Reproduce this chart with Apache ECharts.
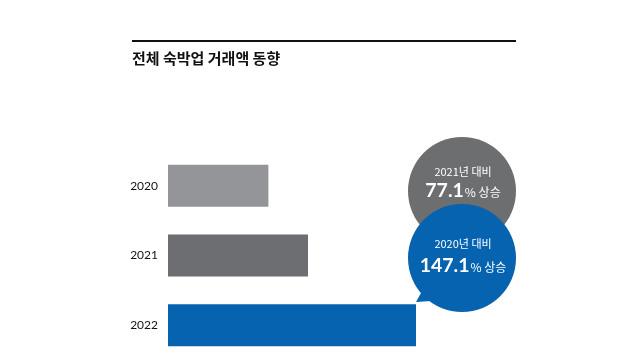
<!DOCTYPE html>
<html><head><meta charset="utf-8">
<script src="https://cdn.jsdelivr.net/npm/echarts@6/dist/echarts.min.js"></script>
<style>html,body{margin:0;padding:0;background:#fff}#c{width:640px;height:360px}</style>
</head><body><div id="c"></div>
<script>
const titleText = '전체 숙박업 거래액 동향';
const years = ['2020', '2021', '2022'];
const values = [100.4, 140.0, 248];
const barColors = ['#939598', '#6d6e71', '#0563b0'];
const bubble1 = ['2021년 대비', '77.1', '% 상승'];
const bubble2 = ['2020년 대비', '147.1', '% 상승'];

const chart = echarts.init(document.getElementById('c'), null, {renderer: 'canvas'});
const kfont = '"Noto Sans CJK KR", sans-serif';

function bubble(cx, cy, r, color, lines, dy1, dy2) {
  return [
    {type: 'circle', shape: {cx: cx, cy: cy, r: r}, style: {fill: color}, z: 10},
    {type: 'text', x: cx + 1, y: cy + dy1, z: 11, style: {text: lines[0], fill: '#fff', font: '11px ' + kfont, align: 'center', verticalAlign: 'middle'}},
    {type: 'text', x: cx + 1, y: cy + dy2, z: 11, style: {
      text: '{a|' + lines[1] + '}{b|' + lines[2] + '}', fill: '#fff', align: 'center', verticalAlign: 'middle',
      rich: {a: {fontFamily: 'Lato', fontWeight: 'bold', fontSize: 19.5, fill: '#fff'}, b: {fontFamily: kfont, fontSize: 12, fill: '#fff', padding: [3, 0, 0, 1]}}
    }}
  ];
}

const option = {
  backgroundColor: '#fff',
  animation: false,
  grid: {left: 168, right: 124, top: 151, height: 210, containLabel: false},
  xAxis: {type: 'value', min: 0, max: 348, show: false},
  yAxis: {
    type: 'category', data: years, inverse: true,
    axisLine: {show: false}, axisTick: {show: false},
    axisLabel: {margin: 10, color: '#111', fontSize: 12, fontFamily: 'Lato'}
  },
  series: [{
    type: 'bar', barWidth: 42,
    data: values.map((v, i) => ({value: v, itemStyle: {color: barColors[i]}}))
  }],
  graphic: [
    {type: 'line', shape: {x1: 132, y1: 41, x2: 516, y2: 41}, style: {stroke: '#111', lineWidth: 2}},
    {type: 'text', x: 132, y: 58, style: {text: titleText, fill: '#111', font: 'bold 15px ' + kfont, verticalAlign: 'middle'}},
    ...bubble(462, 191, 54, '#6d6e70', bubble1, -19, 0),
    {type: 'polygon', z: 12, shape: {points: [[416, 302], [426, 284], [446, 300]]}, style: {fill: '#0563b0'}},
    ...bubble(462, 258, 54, '#0563b0', bubble2, -14, 8).map(e => Object.assign(e, {z: e.z + 3}))
  ]
};
chart.setOption(option);
</script></body></html>
